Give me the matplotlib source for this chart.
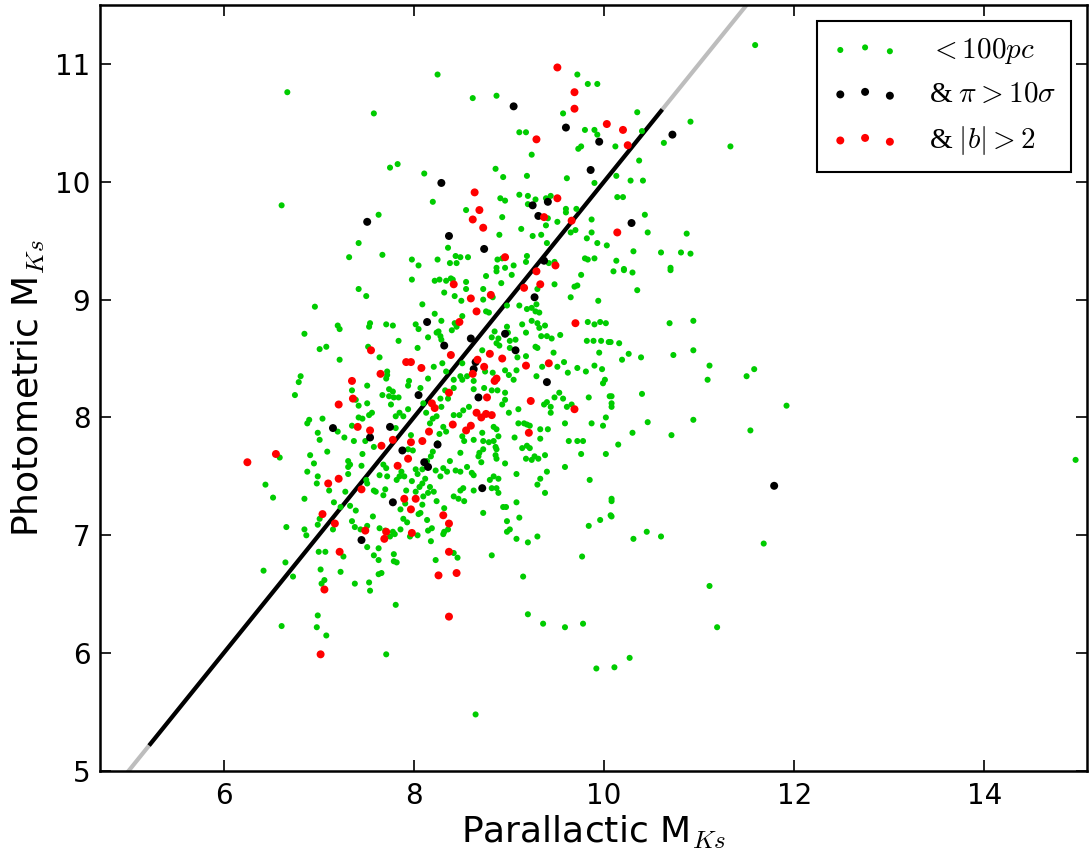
import numpy as np
import matplotlib
matplotlib.use("Agg")
import matplotlib.pyplot as plt

plt.rcParams['font.family'] = ['DejaVu Sans']
plt.rcParams['mathtext.fontset'] = 'cm'

# Stars within 100 pc: (parallactic M_Ks, photometric M_Ks)
green_pts = [
    (6.67,10.76),(7.58,10.58),(7.75,10.12),(7.83,10.15),(6.61,9.80),(7.63,9.72),(7.42,9.48),(7.32,9.36),(7.67,9.38),(7.98,9.34),(8.05,9.29),
    (8.25,10.91),(9.72,10.91),(9.83,10.83),(9.93,10.83),(8.62,10.71),(8.87,10.73),(9.57,10.58),(9.80,10.44),(9.90,10.44),(9.93,10.40),(9.11,10.42),(9.18,10.42),(9.73,10.28),(9.76,10.30),(9.24,10.23),(8.86,10.11),(8.94,10.04),(9.19,10.05),(9.61,10.03),(8.11,10.07),(9.90,9.99),(8.20,9.83),(9.11,9.89),(9.20,9.88),(9.28,9.85),(8.91,9.86),(8.96,9.84),(9.39,9.86),(9.44,9.88),(9.20,9.81),(8.55,9.76),(9.41,9.69),(9.60,9.77),(9.60,9.74),(9.71,9.77),(8.93,9.70),(9.39,9.63),(9.51,9.66),(9.87,9.68),(9.13,9.60),(8.90,9.55),(9.25,9.54),(9.34,9.55),(9.65,9.57),(9.70,9.59),(9.87,9.57),(9.82,9.52),(9.93,9.48),(10.03,9.46),(8.36,9.44),(9.40,9.48),(8.25,9.34),(8.44,9.37),(8.49,9.36),(8.57,9.36),(8.38,9.31),(8.45,9.31),(8.88,9.34),(8.93,9.35),(9.19,9.37),(9.18,9.32),(9.05,9.29),(9.42,9.31),(9.48,9.32),(9.80,9.35),(9.83,9.34),(9.90,9.35),(8.87,9.27),(8.96,9.27),
    (11.59,11.16),(10.35,10.59),(10.91,10.51),(10.40,10.43),(10.12,10.30),(10.63,10.33),(11.33,10.30),(10.37,10.18),(10.13,10.05),(10.28,10.01),(10.41,10.01),(10.14,9.87),(10.20,9.87),(10.43,9.72),(10.46,9.57),(10.87,9.56),(10.31,9.41),(10.60,9.40),(10.81,9.40),(10.91,9.39),(10.13,9.33),(10.21,9.26),(10.70,9.27),
    (7.98,9.17),(7.42,9.09),(7.50,9.03),(6.96,8.94),(6.85,8.71),(7.20,8.78),(7.22,8.75),(7.54,8.80),(7.53,8.77),(7.71,8.79),(7.78,8.78),(8.02,8.79),(8.05,8.75),(7.84,8.65),(7.01,8.58),(7.08,8.60),(7.52,8.60),(8.04,8.59),(7.64,8.51),(7.22,8.49),(7.72,8.39),(7.72,8.36),(7.71,8.33),(6.81,8.35),(6.79,8.30),(7.51,8.27),(7.35,8.23),(6.75,8.19),(7.39,8.15),(7.42,8.10),(7.51,8.12),(7.74,8.24),(7.78,8.22),(7.67,8.19),(7.74,8.18),(7.79,8.17),(7.84,8.17),(7.76,8.11),(7.95,8.31),(7.94,8.27),(8.07,8.25),(7.94,8.07),(7.85,8.04),(7.89,8.01),(7.81,8.01),(7.42,8.00),(7.53,8.02),(7.56,8.04),(7.04,7.99),(6.90,7.98),(6.88,7.95),(7.35,7.93),(7.46,7.99),(7.20,7.88),(7.81,7.91),(6.99,7.87),(7.01,7.81),(7.27,7.83),(7.37,7.80),(7.49,7.80),(7.58,7.75),(7.97,7.85),(7.94,7.73),(7.99,7.72),(7.09,7.71),(6.91,7.68),(6.59,7.66),(6.95,7.61),(7.46,7.69),(7.31,7.63),(7.33,7.60),(7.31,7.58),(7.45,7.59),(7.68,7.60),(7.71,7.57),(7.87,7.54),(7.90,7.50),(7.85,7.50),(8.02,7.56),(8.04,7.52),(6.88,7.54),(7.31,7.52),(6.99,7.50),(6.98,7.44),(6.44,7.43),(6.52,7.32),(6.85,7.31),(7.11,7.38),(7.28,7.37),(7.50,7.47),(7.51,7.44),(7.64,7.51),(7.72,7.50),(7.58,7.38),(7.60,7.37),(7.70,7.39),(7.68,7.34),(7.82,7.47),(7.92,7.38),(7.98,7.46),(8.02,7.37),(8.06,7.41),
    (8.22,9.16),(8.27,9.17),(8.34,9.16),(8.39,9.18),(8.41,9.17),(8.32,9.06),(8.55,9.15),(8.76,9.20),(8.87,9.24),(9.03,9.21),(8.92,9.14),(9.48,9.13),(9.76,9.21),(9.69,9.11),(9.72,9.12),(9.65,9.02),(9.94,8.99),(8.43,9.03),(8.55,9.09),(8.73,9.09),(8.83,9.02),(8.73,9.00),(8.50,8.99),(9.30,9.09),(9.11,8.95),(9.19,8.92),(9.24,8.93),(9.28,8.90),(9.32,8.89),(9.29,8.96),(8.98,8.95),(8.76,8.90),(8.79,8.89),(8.51,8.86),(8.22,8.88),(8.09,8.96),(8.29,8.82),(8.40,8.74),(8.45,8.77),(8.43,8.80),(8.24,8.72),(8.26,8.73),(8.28,8.69),(8.29,8.66),(8.15,8.68),(8.72,8.57),(8.85,8.73),(8.82,8.68),(8.89,8.67),(8.87,8.63),(8.90,8.61),(8.98,8.77),(8.99,8.72),(9.01,8.65),(9.01,8.59),(9.07,8.66),(9.14,8.79),(9.18,8.72),(9.24,8.82),(9.30,8.80),(9.32,8.76),(9.38,8.78),(9.28,8.60),(9.30,8.59),(9.45,8.67),(9.54,8.70),(9.34,8.69),(9.40,8.69),(9.47,8.55),(9.58,8.47),(9.51,8.43),(9.62,8.38),(9.18,8.52),(9.09,8.51),(9.29,8.35),(9.35,8.43),(9.72,8.42),(9.81,8.39),(9.90,8.44),(9.98,8.41),(10.01,8.32),(9.99,8.29),(9.82,8.65),(9.89,8.65),(9.97,8.65),(10.05,8.64),(9.83,8.81),(9.90,8.79),(9.96,8.81),(10.02,8.80),(9.95,8.55),(8.51,8.46),(8.49,8.35),(8.51,8.32),(8.56,8.35),(8.34,8.39),(8.42,8.32),(8.42,8.25),(8.33,8.23),(8.36,8.16),(8.30,8.46),(8.21,8.43),(8.15,8.33),(8.75,8.39),(8.83,8.38),(8.96,8.40),(9.00,8.36),(9.05,8.32),(9.08,8.40),(8.63,8.24),(8.74,8.25),(8.82,8.23),(8.88,8.23),(8.96,8.21),(8.96,8.15),(8.93,8.11),(8.28,8.16),(8.29,8.09),(8.10,8.12),(8.13,8.04),(8.24,8.01),(8.42,8.02),(8.48,8.02),(8.52,8.06),(8.58,8.09),(8.84,7.92),(8.87,7.90),(8.89,7.84),(8.84,7.80),(8.79,7.79),(8.31,7.92),(8.34,7.88),(8.27,7.86),(8.25,7.78),(8.17,7.95),(8.20,7.99),(8.51,7.84),(8.53,7.80),(8.63,7.81),(8.72,7.87),(8.73,7.80),(9.00,8.04),(9.10,8.07),(9.40,8.13),(9.48,8.17),(9.53,8.21),(9.57,8.16),(9.61,8.09),(9.66,8.11),(9.44,8.04),(9.37,8.11),(9.44,8.09),(9.84,8.17),(10.02,8.00),(9.99,7.93),(10.06,8.18),(9.59,7.95),(9.87,7.95),(9.10,7.95),(9.16,7.95),(9.19,7.94),(9.22,7.93),(9.06,7.83),(9.33,7.90),(9.41,7.90),(9.33,7.82),(9.63,7.80),(9.72,7.80),(9.78,7.80),(10.02,7.69),(9.76,7.69),(9.14,7.74),(9.19,7.76),(9.22,7.74),(9.27,7.67),(9.31,7.65),(9.38,7.68),(9.18,7.65),(9.24,7.64),(8.96,7.61),(9.08,7.52),(9.40,7.54),(9.59,7.58),(9.30,7.43),(9.33,7.48),(9.38,7.36),(9.85,7.47),(8.86,7.75),(8.87,7.73),(8.86,7.68),(8.87,7.65),(8.73,7.73),(8.69,7.70),(8.68,7.67),(8.71,7.62),(8.49,7.70),(8.38,7.63),(8.31,7.57),(8.35,7.54),(8.44,7.55),(8.49,7.54),(8.56,7.58),(8.61,7.53),(8.63,7.51),(8.80,7.47),(8.84,7.50),(8.89,7.48),(8.52,7.40),(8.49,7.38),(8.63,7.38),(8.82,7.40),(8.87,7.40),(8.89,7.36),(8.42,7.33),(8.47,7.31),(8.20,7.71),(8.18,7.67),(8.14,7.63),(8.09,7.56),(8.12,7.48),(8.09,7.44),(8.23,7.55),(8.28,7.50),(8.17,7.41),(8.21,7.37),(8.10,7.33),(8.15,7.36),(8.63,8.31),
    (10.10,9.24),(10.21,9.25),(10.30,9.23),(10.70,9.25),(10.35,9.08),(10.69,8.80),(10.94,8.82),(10.16,8.63),(10.07,8.64),(10.26,8.54),(10.19,8.49),(10.39,8.51),(10.73,8.53),(10.94,8.57),(11.11,8.44),(11.09,8.32),(11.50,8.35),(11.58,8.41),(10.08,8.18),(10.40,8.20),(10.08,8.12),(10.08,8.09),(11.92,8.10),(10.46,7.96),(10.94,7.98),(10.30,7.87),(10.71,7.85),(11.54,7.89),(10.15,7.77),(10.08,7.31),
    (7.01,7.14),(6.99,7.09),(6.66,7.07),(6.85,7.05),(6.87,7.00),(7.16,7.28),(7.23,7.24),(7.33,7.25),(7.39,7.21),(7.15,7.05),(7.35,7.12),(7.38,7.07),(7.57,7.16),(7.44,7.05),(7.51,7.08),(7.51,6.90),(7.64,7.06),(7.70,7.04),(7.75,6.99),(7.80,7.01),(7.78,7.03),(7.86,7.05),(7.91,7.27),(7.86,7.22),(8.05,7.18),(7.89,7.14),(7.93,7.11),(8.04,7.00),(7.96,6.99),(7.00,6.86),(7.07,6.86),(7.26,6.82),(6.65,6.77),(6.42,6.70),(6.73,6.65),(7.02,6.71),(7.23,6.69),(7.63,6.89),(7.58,6.83),(7.63,6.79),(7.79,6.84),(7.79,6.78),(7.82,6.77),(7.63,6.67),(7.66,6.68),(7.06,6.62),(7.03,6.59),(7.38,6.59),(7.53,6.60),(7.54,6.53),(7.81,6.41),(6.99,6.32),(6.98,6.22),(6.61,6.23),(7.08,6.15),(7.71,5.99),
    (8.09,7.26),(8.24,7.29),(8.32,7.23),(8.53,7.29),(8.07,7.19),(8.14,7.13),(8.19,7.06),(8.15,7.04),(8.32,7.03),(8.31,7.01),(8.36,7.05),(8.18,6.95),(8.73,7.19),(8.94,7.24),(8.97,7.24),(9.08,7.28),(9.11,7.15),(8.98,7.12),(9.01,7.05),(8.98,7.03),(9.08,6.97),(9.20,6.94),(9.30,6.99),(9.84,7.08),(9.96,7.13),(10.07,7.17),(8.42,6.85),(8.46,6.81),(8.23,6.79),(8.82,6.83),(9.77,6.82),(9.15,6.65),(9.20,6.33),(9.36,6.25),(9.59,6.22),(9.78,6.25),(9.92,5.87),(8.65,5.48),
    (10.08,7.29),(10.08,7.16),(10.45,7.03),(10.31,6.97),(10.60,6.99),(11.68,6.93),(11.11,6.57),(11.19,6.22),(10.27,5.96),(10.11,5.88),
    (14.96,7.64),
]

# Subset with parallax better than 10 sigma
black_pts = [
    (7.51,9.66),(9.05,10.64),(9.60,10.46),(9.95,10.34),(8.29,9.99),(9.86,10.10),(9.25,9.80),(9.41,9.83),(9.31,9.71),(8.37,9.54),
    (8.74,9.43),(9.37,9.33),(10.72,10.40),(10.29,9.65),(8.05,8.19),(7.15,7.91),(7.54,7.83),(7.75,7.92),(7.88,7.72),(9.27,9.02),
    (8.14,8.81),(8.32,8.61),(8.60,8.67),(8.96,8.71),(9.07,8.57),(8.65,8.47),(8.63,8.41),(8.68,8.17),(9.40,8.30),(8.25,7.77),
    (8.11,7.62),(8.15,7.58),(8.72,7.40),(11.79,7.42),(7.45,6.96),(7.78,7.28),
]

# Subset also away from the galactic plane, |b| > 2
red_pts = [
    (9.51,10.97),(9.69,10.76),(9.69,10.62),(10.03,10.49),(9.29,10.36),(8.64,9.91),(9.51,9.86),(8.69,9.76),(8.62,9.68),(9.37,9.70),
    (9.66,9.67),(8.73,9.61),(8.96,9.36),(9.49,9.29),(10.20,10.44),(10.25,10.31),(10.14,9.57),(7.55,8.57),(7.92,8.47),(7.97,8.47),
    (8.08,8.42),(7.65,8.37),(7.35,8.31),(7.36,8.16),(7.21,8.11),(7.41,7.92),(7.54,7.89),(7.78,7.81),(7.66,7.76),(7.97,7.79),
    (7.94,7.65),(6.55,7.69),(6.25,7.62),(7.83,7.59),(7.10,7.44),(7.21,7.48),(7.45,7.39),(8.02,7.31),(7.90,7.31),
    (8.42,9.13),(9.29,9.24),(9.33,9.13),(8.60,9.01),(8.81,9.04),(9.16,9.10),(8.66,8.90),(8.48,8.81),(9.70,8.80),(8.80,8.54),
    (8.93,8.50),(8.67,8.49),(8.74,8.43),(8.62,8.37),(8.85,8.31),(8.87,8.33),(8.39,8.53),(9.18,8.44),(9.42,8.46),(8.77,8.17),
    (8.37,8.21),(8.19,8.12),(8.22,8.08),(8.66,8.04),(8.71,8.00),(8.76,8.03),(8.82,8.02),(8.41,7.94),(8.60,7.93),(8.55,7.89),
    (8.16,7.88),(8.09,7.80),(9.23,8.14),(9.69,8.07),(9.21,7.87),
    (7.04,7.18),(7.17,7.10),(7.49,7.04),(7.71,7.03),(7.69,6.97),(7.97,7.22),(7.98,7.02),(7.22,6.86),(7.06,6.54),(7.02,5.99),
    (8.31,7.17),(8.37,7.10),(8.37,6.86),(8.45,6.68),(8.26,6.66),(8.37,6.31),
]

# One-to-one reference line and the fitted range of the sample
ref_range = [5.0, 11.6]
fit_range = [5.23, 10.60]

labels = ['$<100pc$', r'& $\pi>10\sigma$', r'& $|b|>2$']

g = np.array(green_pts)
b = np.array(black_pts)
r = np.array(red_pts)

fig = plt.figure(figsize=(10.89, 8.58), dpi=100)
ax = fig.add_axes([100/1089, 87/858, 987/1089, 766/858])

ax.plot(ref_range, ref_range, color='#bdbdbd', lw=3, zorder=1)
ax.plot(fit_range, fit_range, color='black', lw=3, zorder=2)

sg = ax.scatter(g[:, 0], g[:, 1], s=19, c='#00cc00', edgecolors='none', zorder=3, label=labels[0])
sb = ax.scatter(b[:, 0], b[:, 1], s=33, c='black', edgecolors='none', zorder=4, label=labels[1])
sr = ax.scatter(r[:, 0], r[:, 1], s=33, c='#ff0000', edgecolors='none', zorder=5, label=labels[2])

ax.set_xlim(4.7, 15.08)
ax.set_ylim(5, 11.5)
ax.set_xticks([6, 8, 10, 12, 14])
ax.set_yticks([5, 6, 7, 8, 9, 10, 11])

ax.tick_params(direction='in', length=8, width=1.2, labelsize=20,
               top=True, right=True)
ax.tick_params(axis='x', pad=8)
ax.tick_params(axis='y', pad=7)
for sp in ax.spines.values():
    sp.set_linewidth(1.8)

ax.set_xlabel('Parallactic M$_{Ks}$', fontsize=26, labelpad=3)
ax.set_ylabel('Photometric M$_{Ks}$', fontsize=26, labelpad=6)

leg = ax.legend(handles=[sg, sb, sr], loc='upper right', scatterpoints=3,
                scatteryoffsets=[0.375, 0.5, 0.3125],
                prop={'family': 'Liberation Serif', 'size': 21},
                fancybox=False, framealpha=1, edgecolor='black',
                borderaxespad=0.55, handlelength=2.3, handletextpad=1.05,
                borderpad=0.5, labelspacing=0.55)
leg.get_frame().set_linewidth(1.5)

fig.savefig('out.png', dpi=100)
